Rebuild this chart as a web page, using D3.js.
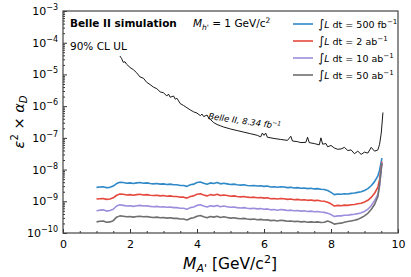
<!DOCTYPE html>
<html><head><meta charset="utf-8">
<script src="https://cdn.jsdelivr.net/npm/d3@7"></script>
<style>
body{margin:0;background:#fff;}
svg{display:block;font-family:"DejaVu Sans",sans-serif;}
</style></head>
<body><svg id="c" width="411" height="277"></svg>
<script>
// masses (GeV/c^2) and log10(eps^2 * alpha_D) values
const massColored = [1.0,1.1,1.2,1.3,1.4,1.5,1.6,1.7,1.8,1.9,
 2.0,2.1,2.2,2.3,2.4,2.5,2.6,2.7,2.8,2.9,
 3.0,3.1,3.2,3.3,3.4,3.5,3.6,3.7,3.8,3.9,
 4.0,4.1,4.2,4.3,4.4,4.5,4.6,4.7,4.8,4.9,
 5.0,5.1,5.2,5.3,5.4,5.5,5.6,5.7,5.8,5.9,
 6.0,6.1,6.2,6.3,6.4,6.5,6.6,6.7,6.8,6.9,
 7.0,7.1,7.2,7.3,7.4,7.5,7.6,7.7,7.8,7.9,
 8.0,8.1,8.2,8.3,8.4,8.5,8.6,8.7,8.8,8.9,
 9.0,9.1,9.2,9.3,9.4,9.45,9.52];
const lum500fb = [-8.56,-8.55,-8.54,-8.57,-8.56,-8.52,-8.44,-8.40,-8.41,-8.43,
 -8.42,-8.44,-8.42,-8.41,-8.43,-8.42,-8.44,-8.45,-8.44,-8.46,
 -8.45,-8.47,-8.46,-8.48,-8.48,-8.50,-8.50,-8.53,-8.48,-8.46,
 -8.41,-8.39,-8.43,-8.46,-8.42,-8.44,-8.41,-8.45,-8.43,-8.45,
 -8.47,-8.46,-8.48,-8.49,-8.48,-8.50,-8.51,-8.50,-8.52,-8.51,
 -8.53,-8.52,-8.55,-8.54,-8.56,-8.54,-8.55,-8.57,-8.56,-8.58,
 -8.57,-8.59,-8.58,-8.60,-8.59,-8.61,-8.60,-8.62,-8.63,-8.66,
 -8.72,-8.79,-8.77,-8.78,-8.76,-8.77,-8.75,-8.74,-8.72,-8.70,
 -8.66,-8.60,-8.51,-8.38,-8.20,-8.02,-7.64];
const lum2ab = [-8.93,-8.92,-8.91,-8.94,-8.93,-8.89,-8.81,-8.77,-8.78,-8.80,
 -8.79,-8.81,-8.79,-8.78,-8.80,-8.79,-8.81,-8.82,-8.81,-8.83,
 -8.82,-8.84,-8.83,-8.85,-8.85,-8.87,-8.87,-8.90,-8.85,-8.83,
 -8.78,-8.76,-8.80,-8.83,-8.79,-8.81,-8.78,-8.82,-8.80,-8.82,
 -8.84,-8.83,-8.85,-8.86,-8.85,-8.87,-8.88,-8.87,-8.89,-8.88,
 -8.90,-8.89,-8.92,-8.91,-8.93,-8.91,-8.92,-8.94,-8.93,-8.95,
 -8.94,-8.96,-8.95,-8.97,-8.96,-8.98,-8.97,-8.99,-9.00,-9.03,
 -9.08,-9.15,-9.13,-9.14,-9.12,-9.13,-9.11,-9.10,-9.08,-9.06,
 -9.02,-8.97,-8.88,-8.75,-8.55,-8.32,-7.75];
const lum10ab = [-9.30,-9.28,-9.27,-9.31,-9.29,-9.25,-9.15,-9.11,-9.13,-9.15,
 -9.14,-9.16,-9.14,-9.13,-9.15,-9.14,-9.16,-9.17,-9.16,-9.18,
 -9.17,-9.19,-9.18,-9.20,-9.20,-9.22,-9.22,-9.25,-9.20,-9.18,
 -9.13,-9.11,-9.15,-9.18,-9.14,-9.16,-9.13,-9.17,-9.15,-9.17,
 -9.19,-9.18,-9.20,-9.21,-9.20,-9.22,-9.23,-9.22,-9.24,-9.23,
 -9.25,-9.24,-9.27,-9.26,-9.28,-9.26,-9.27,-9.29,-9.28,-9.30,
 -9.29,-9.31,-9.30,-9.32,-9.31,-9.33,-9.32,-9.34,-9.35,-9.38,
 -9.42,-9.48,-9.46,-9.46,-9.44,-9.44,-9.42,-9.41,-9.39,-9.36,
 -9.32,-9.25,-9.14,-8.98,-8.78,-8.52,-7.78];
const lum50ab = [-9.65,-9.63,-9.62,-9.66,-9.65,-9.61,-9.50,-9.46,-9.47,-9.49,
 -9.48,-9.50,-9.48,-9.47,-9.49,-9.48,-9.50,-9.51,-9.50,-9.52,
 -9.51,-9.53,-9.52,-9.54,-9.54,-9.56,-9.56,-9.59,-9.54,-9.52,
 -9.47,-9.45,-9.49,-9.52,-9.48,-9.50,-9.47,-9.51,-9.49,-9.51,
 -9.53,-9.52,-9.54,-9.55,-9.54,-9.56,-9.57,-9.56,-9.58,-9.57,
 -9.59,-9.58,-9.61,-9.60,-9.62,-9.60,-9.61,-9.63,-9.62,-9.64,
 -9.63,-9.65,-9.64,-9.66,-9.65,-9.66,-9.65,-9.67,-9.66,-9.62,
 -9.66,-9.72,-9.70,-9.69,-9.66,-9.64,-9.62,-9.60,-9.57,-9.52,
 -9.46,-9.38,-9.26,-9.10,-8.85,-8.45,-7.80];
const massBelle = [1.7,1.75,1.8,1.85,1.9,2.0,2.1,2.2,2.3,2.4,2.5,2.6,2.7,2.8,2.9,3.0,3.1,3.15,3.2,3.3,3.35,3.4,3.5,3.6,3.7,3.8,3.9,4.0,4.1,4.15,4.2,4.3,4.35,4.4,4.5,4.6,4.7,4.8,5.0,5.2,5.4,5.6,5.8,5.9,5.95,6.0,6.05,6.1,6.3,6.5,6.7,6.8,6.85,7.0,7.1,7.25,7.3,7.35,7.5,7.65,7.7,7.75,7.85,7.9,8.0,8.1,8.2,8.3,8.4,8.5,8.6,8.7,8.8,8.9,9.0,9.1,9.2,9.3,9.4,9.45,9.5,9.55];
const belle834 = [-4.42,-4.50,-4.62,-4.60,-4.68,-4.78,-4.85,-4.95,-5.08,-5.12,-5.25,-5.32,-5.40,-5.45,-5.55,-5.58,-5.68,-5.62,-5.72,-5.68,-5.78,-5.75,-5.92,-5.98,-6.05,-6.12,-6.18,-6.22,-6.30,-6.25,-6.33,-6.28,-6.38,-6.42,-6.52,-6.58,-6.62,-6.66,-6.72,-6.77,-6.82,-6.87,-6.92,-6.97,-6.85,-6.92,-6.85,-6.98,-7.02,-7.05,-7.08,-6.95,-7.10,-7.12,-7.15,-7.14,-6.98,-7.15,-7.18,-7.22,-7.00,-7.20,-7.18,-7.28,-7.24,-7.32,-7.36,-7.35,-7.30,-7.40,-7.38,-7.50,-7.42,-7.52,-7.45,-7.48,-7.30,-7.42,-7.38,-7.20,-6.85,-6.20];
const xTicks = [0,2,4,6,8,10];
const yTickExps = [-10,-9,-8,-7,-6,-5,-4,-3];
const legendLabels = [["500","fb"],["2","ab"],["10","ab"],["50","ab"]];
const colors = ["#2f88c8","#e5483c","#9d8ddc","#6f6f6f"];

const svg = d3.select("#c");
const L=63,R=398,T=11,B=233;
const x = d3.scaleLinear().domain([0,10]).range([L,R]);
const y = d3.scaleLog().domain([1e-10,1e-3]).range([B,T]);

const line = d3.line().x(d=>x(d[0])).y(d=>y(Math.pow(10,d[1])));
const series = [lum500fb,lum2ab,lum10ab,lum50ab];

const g = svg.append("g");
g.append("clipPath").attr("id","clip").append("rect").attr("x",L).attr("y",T).attr("width",R-L).attr("height",B-T);
const plot = g.append("g").attr("clip-path","url(#clip)");
plot.append("path").datum(massBelle.map((m,i)=>[m,belle834[i]]))
  .attr("d",line).attr("fill","none").attr("stroke","#000").attr("stroke-width",0.9);
series.forEach((s,k)=>{
  plot.append("path").datum(massColored.map((m,i)=>[m,s[i]]))
   .attr("d",line).attr("fill","none").attr("stroke",colors[k]).attr("stroke-width",1.6).attr("stroke-linejoin","round");
});

// axes with inward ticks
const xAxis = d3.axisBottom(x).tickValues(xTicks).tickSize(-4).tickPadding(7).tickFormat(d3.format("d"));
const gx = svg.append("g").attr("transform",`translate(0,${B})`).call(xAxis);
gx.select(".domain").remove();
gx.selectAll("text").attr("font-size",11).attr("fill","#000").attr("font-family","DejaVu Sans");
const xMinor = d3.range(0,10.01,0.5).filter(v=>!xTicks.includes(v));
svg.append("g").attr("transform",`translate(0,${B})`).call(d3.axisBottom(x).tickValues(xMinor).tickSize(-2).tickFormat(""))
  .select(".domain").remove();

const yAxis = d3.axisLeft(y).tickValues(yTickExps.map(e=>Math.pow(10,e))).tickSize(-4).tickPadding(6).tickFormat("");
const gy = svg.append("g").attr("transform",`translate(${L},0)`).call(yAxis);
gy.select(".domain").remove();
yTickExps.forEach(e=>{
  const t = svg.append("text").attr("x",L-5).attr("y",y(Math.pow(10,e))+4).attr("text-anchor","end").attr("font-size",11);
  t.append("tspan").text("10");
  t.append("tspan").attr("dy",-5).attr("font-size",8).text("\u2212"+Math.abs(e));
});
const yMinor=[];
for(let e=-10;e<-3;e++) for(let k=2;k<10;k++) yMinor.push(k*Math.pow(10,e));
svg.append("g").attr("transform",`translate(${L},0)`).call(d3.axisLeft(y).tickValues(yMinor).tickSize(-2).tickFormat(""))
  .select(".domain").remove();
svg.selectAll(".tick line").attr("stroke","#333");

svg.append("rect").attr("x",L).attr("y",T).attr("width",R-L).attr("height",B-T)
  .attr("fill","none").attr("stroke","#444").attr("stroke-width",1.2);

// texts
svg.append("text").attr("x",70).attr("y",27).attr("font-size",10.5).attr("font-weight","bold").text("Belle II simulation");
svg.append("text").attr("x",70).attr("y",50).attr("font-size",10.5).text("90% CL UL");
const mh = svg.append("text").attr("x",193).attr("y",27).attr("font-size",10.5);
mh.append("tspan").attr("font-style","italic").text("M");
mh.append("tspan").attr("font-style","italic").attr("font-size",7.5).attr("dy",2.5).text("h'");
mh.append("tspan").attr("dy",-2.5).text(" = 1 GeV/c");
mh.append("tspan").attr("font-size",7.5).attr("dy",-4.5).text("2");

const bl = svg.append("text").attr("transform",`translate(208,119) rotate(8)`).attr("font-size",8.5).attr("font-style","italic");
bl.append("tspan").text("Belle II, 8.34 fb");
bl.append("tspan").attr("dy",-3.5).attr("font-size",6).text("\u22121");

legendLabels.forEach((lab,i)=>{
  const yy = 24 + i*17;
  svg.append("line").attr("x1",293).attr("x2",313).attr("y1",yy).attr("y2",yy).attr("stroke",colors[i]).attr("stroke-width",1.6);
  const t = svg.append("text").attr("x",318).attr("y",yy+3.5).attr("font-size",9.5);
  t.append("tspan").attr("font-size",12).text("\u222B");
  t.append("tspan").attr("font-style","italic").text("L");
  t.append("tspan").text(" dt = "+lab[0]+" "+lab[1]);
  t.append("tspan").attr("dy",-4).attr("font-size",7).text("\u22121");
});

// axis labels
const xl = svg.append("text").attr("x",230).attr("y",269).attr("text-anchor","middle").attr("font-size",15.5);
xl.append("tspan").attr("font-style","italic").text("M");
xl.append("tspan").attr("font-style","italic").attr("font-size",11).attr("dy",3).text("A'");
xl.append("tspan").attr("dy",-3).text(" [GeV/c");
xl.append("tspan").attr("font-size",11).attr("dy",-6.5).text("2");
xl.append("tspan").attr("dy",6.5).text("]");

const yl = svg.append("text").attr("transform","translate(24,122) rotate(-90)").attr("text-anchor","middle").attr("font-size",14.5);
yl.append("tspan").attr("font-style","italic").text("\u03B5");
yl.append("tspan").attr("font-size",10).attr("dy",-6).text("2");
yl.append("tspan").attr("dy",6).text(" \u00D7 ");
yl.append("tspan").attr("font-style","italic").text("\u03B1");
yl.append("tspan").attr("font-style","italic").attr("font-size",10).attr("dy",3).text("D");
</script></body></html>
